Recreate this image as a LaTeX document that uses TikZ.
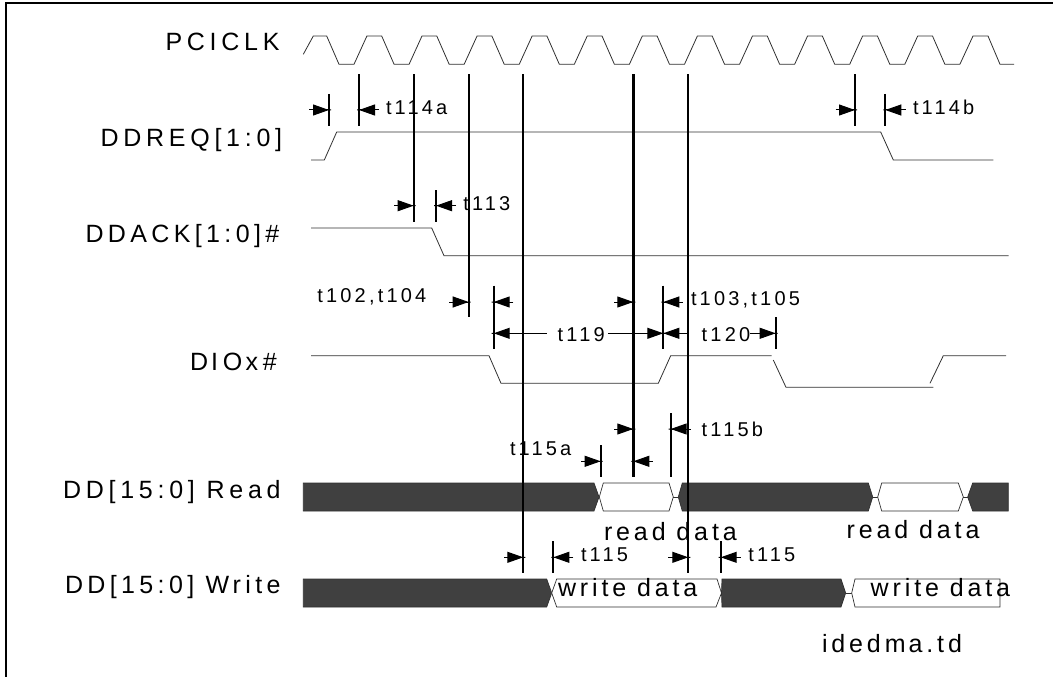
\documentclass[tikz,border=0pt]{standalone}
\usepackage{fontspec}
\setmainfont{Liberation Sans}
\newfontfamily\biglabelfont[LetterSpace=19]{Liberation Sans}
\newfontfamily\ackfont[LetterSpace=17.5]{Liberation Sans}
\newfontfamily\datalabelfont[LetterSpace=15.5]{Liberation Sans}
\newfontfamily\smalllabelfont[LetterSpace=16]{Liberation Sans}
\usetikzlibrary{arrows.meta}
\definecolor{busdark}{HTML}{404040}
\definecolor{sigline}{HTML}{303030}
\tikzset{
  biglabel/.style={anchor=base west,inner sep=0pt,outer sep=0pt,text=black,font=\biglabelfont\fontsize{25}{25}\selectfont},
  acklabel/.style={biglabel,font=\ackfont\fontsize{25}{25}\selectfont},
  datalabel/.style={biglabel,font=\datalabelfont\fontsize{25}{25}\selectfont},
  smalllabel/.style={anchor=base west,inner sep=0pt,outer sep=0pt,text=black,font=\smalllabelfont\fontsize{20}{20}\selectfont},
  sig/.style={draw=sigline,line width=0.8pt,line join=miter},
  buslink/.style={draw=sigline,line width=0.7pt},
  busdarkshape/.style={draw=sigline,line width=0.7pt,fill=busdark},
  buswhiteshape/.style={draw=sigline,line width=0.7pt,fill=white},
  guide/.style={draw=black,line width=2pt},
  guidethick/.style={draw=black,line width=2.6pt},
  tickmark/.style={draw=black,line width=1.8pt},
  dim/.style={draw=black,line width=1pt,shorten >=-2pt,-{Triangle[length=16pt,width=11pt,sep=0pt]Butt Cap[length=2pt]}},
}
\begin{document}
\begin{tikzpicture}[x=1pt,y=-1pt]
\useasboundingbox (0,0) rectangle (1053,677);
% frame
\draw[line width=2.5pt,black] (6.2,677) -- (6.2,2.8) -- (1053,2.8);
% clock
\draw[sig] (303.3,54.3) -- (313.3,36) -- (326.7,36) -- (339,64.3) -- (354,64.3)
  \foreach \k in {1,...,11} {
    -- ({354+12.9+(\k-1)*55.08},36) -- ({354+27.7+(\k-1)*55.08},36)
    -- ({339+\k*55.08},64.3) -- ({354+\k*55.08},64.3)
  }
  -- (973,36) -- (988,36) -- (1000,64.3) -- (1014,64.3);
% DDREQ
\draw[sig] (311,160) -- (324.3,160) -- (336.7,132) -- (880.7,132) -- (893.3,160) -- (993.3,160);
% DDACK
\draw[sig] (311,228) -- (431.7,228) -- (444,255.7) -- (1008.7,255.7);
% DIOx
\draw[sig] (311,355.7) -- (489,355.7) -- (501,383.3) -- (658.3,383.3) -- (670.7,355.7) -- (771.7,355.7);
\draw[sig] (773.3,360) -- (786,387.3) -- (933.3,387.3);
\draw[sig] (930,383.3) -- (943.3,355.7) -- (1006,355.7);
% read bus
\path[busdarkshape] (303.3,483) -- (594,483) -- (599,497) -- (594,511) -- (303.3,511) -- cycle;
\path[buswhiteshape] (599.3,497) -- (603.3,483) -- (669,483) -- (673.3,497) -- (669,511) -- (603.3,511) -- cycle;
\path[buslink] (673.3,497) -- (678.3,497);
\path[busdarkshape] (678.3,497) -- (682.3,483) -- (868.3,483) -- (872.7,497) -- (868.3,511) -- (682.3,511) -- cycle;
\path[buslink] (872.7,497) -- (877.7,497);
\path[buswhiteshape] (877.7,497) -- (881.7,483) -- (958.3,483) -- (963.3,497) -- (958.3,511) -- (881.7,511) -- cycle;
\path[buslink] (963.3,497) -- (967.7,497);
\path[busdarkshape] (967.7,497) -- (972.7,483) -- (1008.3,483) -- (1008.3,511) -- (972.7,511) -- cycle;
% write bus
\path[busdarkshape] (303.3,579) -- (546.7,579) -- (551.7,593) -- (546.7,607) -- (303.3,607) -- cycle;
\path[buswhiteshape] (551.7,593) -- (556.7,579) -- (717,579) -- (721.5,593) -- (716,607) -- (556.7,607) -- cycle;
\path[busdarkshape] (722,579) -- (841,579) -- (845.7,593) -- (841,607) -- (722,607) -- (721.5,593) -- cycle;
\path[buslink] (845.7,593) -- (851.7,593);
\path[buswhiteshape] (851.7,593) -- (855,579) -- (1000,579) -- (1000,607) -- (855,607) -- cycle;
% signal labels
\node[biglabel] (lclk) at (165.5,51) {PCICLK};
\node[biglabel] (lreq) at (100.5,146.7) {DDREQ[1:0]};
\node[acklabel] (lack) at (85.5,242.7) {DDACK[1:0]\#};
\node[biglabel] (ldio) at (190,370) {D\kern3pt IO\kern3.5pt x\#};
\node[biglabel] (lrd) at (63,498) {DD[15:0] Read};
\node[acklabel] (lwr) at (65,593.3) {DD[15:0] W\kern3.5pt rite};
\node[datalabel] (rd1) at (604,540) {read data};
\node[datalabel] (rd2) at (846.7,538.3) {read data};
\node[datalabel] (wd1) at (558,596) {write data};
\node[datalabel] (wd2) at (870.7,596) {write data};
\node[datalabel] (fname) at (822,652.7) {idedm\kern3pt a.td};
% timing labels
\node[smalllabel] (t114a) at (386,114) {t114a};
\node[smalllabel] (t114b) at (913,114) {t114b};
\node[smalllabel] (t113) at (463.3,210) {t113};
\node[smalllabel] (t102) at (317.3,302.7) {t102,t104};
\node[smalllabel] (t103) at (691,305) {t103,t105};
\node[smalllabel] (t119) at (557.7,341) {t119};
\node[smalllabel] (t120) at (701.7,341) {t120};
\node[smalllabel] (t115b) at (701.7,436.7) {t115b};
\node[smalllabel] (t115a) at (510,455.7) {t115a};
\node[smalllabel] (t115l) at (581,561) {t115};
\node[smalllabel] (t115r) at (748.3,561) {t115};
% long guides
\draw[guide] (413.7,74.3) -- (413.7,221.7);
\draw[guide] (468.7,74.3) -- (468.7,316.7);
\draw[guide] (523.3,74.3) -- (523.3,572.7);
\draw[guidethick] (633.3,74.3) -- (633.3,476.7);
\draw[guide] (688.3,74.3) -- (688.3,572.7);
% short ticks
\draw[tickmark] (329,94) -- (329,126);
\draw[tickmark] (359,74.3) -- (359,126);
\draw[tickmark] (855,74.3) -- (855,126);
\draw[tickmark] (885.3,94) -- (885.3,126);
\draw[tickmark] (436,190) -- (436,221.7);
\draw[tickmark] (493.7,285.7) -- (493.7,349.3);
\draw[tickmark] (663.3,285.7) -- (663.3,349.3);
\draw[tickmark] (775.7,317.3) -- (775.7,349.3);
\draw[tickmark] (670.7,413.3) -- (670.7,476.7);
\draw[tickmark] (600.7,445) -- (600.7,476.7);
\draw[tickmark] (553.3,541) -- (553.3,572.7);
\draw[tickmark] (720.7,541) -- (720.7,572.7);
% arrows
\draw[dim] (309.3,110) -- (329,110);
\draw[dim] (379,110) -- (359,110);
\draw[dim] (835.7,110) -- (855,110);
\draw[dim] (905.7,110) -- (885.3,110);
\draw[dim] (394,205.7) -- (413.7,205.7);
\draw[dim] (456,205.7) -- (436,205.7);
\draw[dim] (449,302) -- (468.7,302);
\draw[dim] (513.3,302) -- (493.7,302);
\draw[dim] (614.3,302) -- (633.3,302);
\draw[dim] (682.7,302) -- (663.3,302);
\draw[dim] (546.7,333.3) -- (493.7,333.3);
\draw[dim] (608.3,333.3) -- (663.3,333.3);
\draw[dim] (686.7,333.3) -- (663.3,333.3);
\draw[dim] (750,333.3) -- (775.7,333.3);
\draw[dim] (614,429) -- (633.3,429);
\draw[dim] (690.7,429) -- (670.7,429);
\draw[dim] (581,461.3) -- (600.7,461.3);
\draw[dim] (652.7,461.3) -- (633.3,461.3);
\draw[dim] (504,557.3) -- (523.3,557.3);
\draw[dim] (573.3,557.3) -- (553.3,557.3);
\draw[dim] (668.3,557.3) -- (688.3,557.3);
\draw[dim] (740.7,557.3) -- (720.7,557.3);
\end{tikzpicture}
\end{document}
